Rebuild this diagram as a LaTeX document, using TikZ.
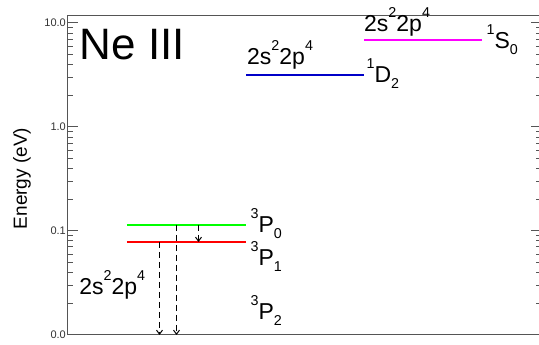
\documentclass[tikz,border=0pt]{standalone}
\usepackage{fontspec}
\setmainfont{Liberation Sans}
\usetikzlibrary{arrows.meta}
\definecolor{lvgreen}{RGB}{0,255,0}
\definecolor{lvred}{RGB}{255,0,0}
\definecolor{lvblue}{RGB}{0,0,200}
\definecolor{lvmagenta}{RGB}{255,0,255}
\definecolor{axgray}{RGB}{85,85,85}
\newcommand{\lvsup}[1]{\raisebox{14pt}{\fontsize{14.3}{16}\selectfont #1}}
\newcommand{\lvsub}[1]{\raisebox{-6pt}{\fontsize{14.3}{16}\selectfont #1}}
\newcommand{\lvconf}{2s\lvsup{2}2p\lvsup{4}}

\begin{document}
\begin{tikzpicture}[
  x=1pt, y=1pt,
  declare function={ly(\e)=104*(ln(\e)/ln(10)+2);},
  lev/.style={line width=2pt},
  lab/.style={anchor=base west, inner sep=0pt, font=\fontsize{23}{26}\selectfont},
  tk/.style={anchor=east, inner sep=0pt, font=\fontsize{11}{12}\selectfont, black!80},
  ax/.style={axgray, line width=1pt},
  ar/.style={-{Straight Barb[length=4pt,width=6pt]}, dash pattern=on 6pt off 4pt, line width=1pt},
]
\useasboundingbox (-68,-10) rectangle (471,335);

% frame and log ticks
\draw[ax] (0,0) rectangle (473,319.5);
\foreach \d/\t in {0.01/0.0, 0.1/0.1, 1/1.0, 10/10.0} {
  \draw[ax] (0,{ly(\d)}) -- ++(10,0);
  \draw[ax] (473,{ly(\d)}) -- ++(-10,0);
  \node[tk] at (-2,{ly(\d)}) {\t};
}
\foreach \d in {0.01,0.1,1} {
  \foreach \m in {2,...,9} {
    \draw[ax] (0,{ly(\m*\d)}) -- ++(5,0);
    \draw[ax] (473,{ly(\m*\d)}) -- ++(-5,0);
  }
}
\coordinate (gnd) at (0,0);

% levels (0.114, 0.0797, 3.20, 6.91 eV)
\coordinate (p0w) at (59,110);
\coordinate (p0e) at (178,110);
\coordinate (p1w) at (59,93);
\coordinate (p1e) at (178,93);
\coordinate (d2w) at (178,260);
\coordinate (d2e) at (296,260);
\coordinate (s0w) at (296,295);
\coordinate (s0e) at (414,295);
\draw[lev, lvgreen] (p0w) -- (p0e);
\draw[lev, lvred] (p1w) -- (p1e);
\draw[lev, lvblue] (d2w) -- (d2e);
\draw[lev, lvmagenta] (s0w) -- (s0e);

% transitions
\coordinate (t1) at (91.5,93);
\coordinate (t2) at (108.5,110);
\coordinate (t3) at (130.5,110);
\coordinate (t3e) at (130.5,93);
\draw[ar] (t1) -- (t1 |- gnd);
\draw[ar] (t2) -- (t2 |- gnd);
\draw[ar] (t3) -- (t3e);

% labels
\node[anchor=base west, inner sep=0pt, font=\fontsize{44}{48}\selectfont] (ion) at (11.6,275) {Ne III};
\node[rotate=90, anchor=base, inner sep=0pt, font=\fontsize{19}{22}\selectfont] (ylab) at (-41,156.5) {Energy (eV)};
\node[lab] (cfgp) at (11.2,40) {\lvconf};
\node[lab] (cfgd) at (179,270) {\lvconf};
\node[lab] (cfgs) at (296,303) {\lvconf};
\node[lab] (tp0) at (182.4,102) {\lvsup{3}P\lvsub{0}};
\node[lab] (tp1) at (182.4,69) {\lvsup{3}P\lvsub{1}};
\node[lab] (tp2) at (182.4,15) {\lvsup{3}P\lvsub{2}};
\node[lab] (td2) at (298.4,252) {\lvsup{1}D\lvsub{2}};
\node[lab] (ts0) at (418.4,286) {\lvsup{1}S\lvsub{0}};

\end{tikzpicture}
\end{document}
